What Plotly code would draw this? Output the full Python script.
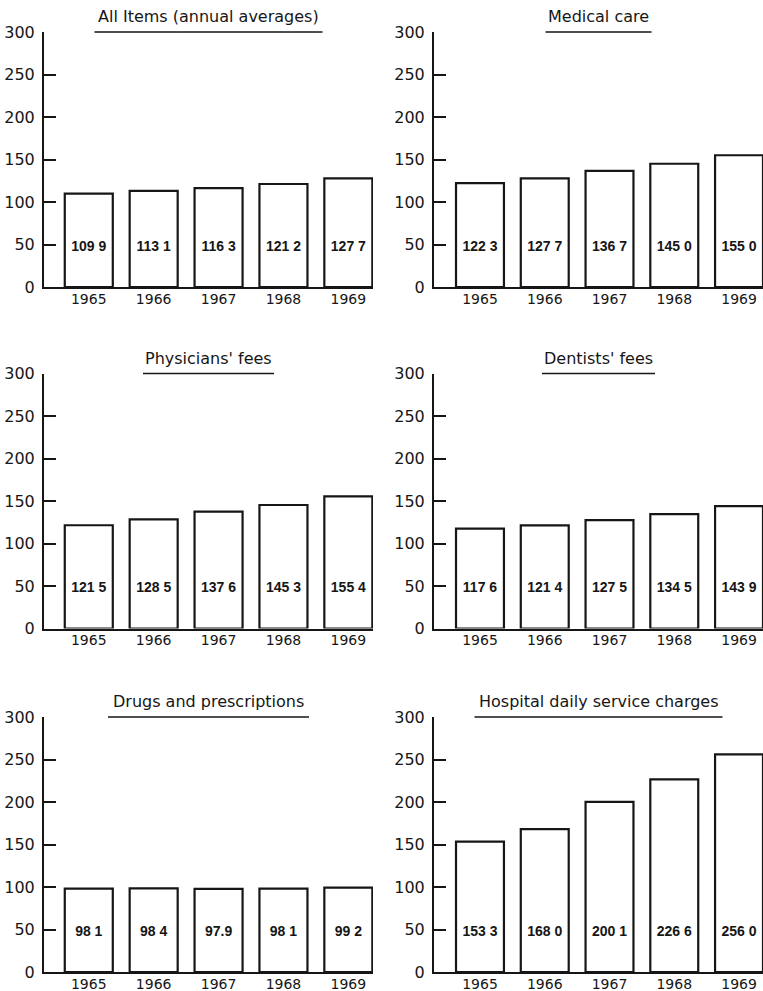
import plotly.graph_objects as go

# ---- data ----
years = ["1965", "1966", "1967", "1968", "1969"]

titles = [
    "All Items (annual averages)",
    "Medical care",
    "Physicians' fees",
    "Dentists' fees",
    "Drugs and prescriptions",
    "Hospital daily service charges",
]

all_items = [109.9, 113.1, 116.3, 121.2, 127.7]
medical_care = [122.3, 127.7, 136.7, 145.0, 155.0]
physicians_fees = [121.5, 128.5, 137.6, 145.3, 155.4]
dentists_fees = [117.6, 121.4, 127.5, 134.5, 143.9]
drugs_prescriptions = [98.1, 98.4, 97.9, 98.1, 99.2]
hospital_charges = [153.3, 168.0, 200.1, 226.6, 256.0]

# bar labels as printed in the source
all_items_lbl = ["109 9", "113 1", "116 3", "121 2", "127 7"]
medical_care_lbl = ["122 3", "127 7", "136 7", "145 0", "155 0"]
physicians_fees_lbl = ["121 5", "128 5", "137 6", "145 3", "155 4"]
dentists_fees_lbl = ["117 6", "121 4", "127 5", "134 5", "143 9"]
drugs_prescriptions_lbl = ["98 1", "98 4", "97.9", "98 1", "99 2"]
hospital_charges_lbl = ["153 3", "168 0", "200 1", "226 6", "256 0"]

y_ticks = [0, 50, 100, 150, 200, 250, 300]

series = [all_items, medical_care, physicians_fees, dentists_fees,
          drugs_prescriptions, hospital_charges]
labels = [all_items_lbl, medical_care_lbl, physicians_fees_lbl,
          dentists_fees_lbl, drugs_prescriptions_lbl, hospital_charges_lbl]

# ---- layout / style ----
W, H = 763, 991
INK = "#161616"
col_dom = [[44 / W, 373 / W], [434 / W, 1.0]]
col_rng = [[-0.69, 4.38], [-0.71, 4.37]]
row_dom = [[(H - 287) / H, (H - 32) / H],
           [(H - 628.5) / H, (H - 373.5) / H],
           [(H - 972) / H, (H - 717) / H]]
underline_half = [114, 53, 65.5, 56.5, 100.5, 124]  # px
LABEL_LEVEL = 47
LABEL_FONT = "Liberation Sans Narrow, Arial Narrow, Liberation Sans, Arial, sans-serif"

fig = go.Figure()
layout = dict(
    template="none",
    width=W, height=H, autosize=False,
    margin=dict(l=0, r=0, t=0, b=0, pad=0),
    paper_bgcolor="white", plot_bgcolor="white",
    showlegend=False,
    font=dict(family="DejaVu Sans", color=INK),
)
annotations = []
shapes = []

for i in range(6):
    r, c = divmod(i, 2)
    n = i + 1
    xa = "x" if n == 1 else f"x{n}"
    ya = "y" if n == 1 else f"y{n}"
    xkey = "xaxis" if n == 1 else f"xaxis{n}"
    ykey = "yaxis" if n == 1 else f"yaxis{n}"
    xs = list(range(len(years)))

    fig.add_trace(go.Bar(
        x=xs, y=series[i], width=0.74,
        marker=dict(color="white", line=dict(color=INK, width=2.2)),
        xaxis=xa, yaxis=ya, hoverinfo="skip", cliponaxis=False,
    ))
    fig.add_trace(go.Scatter(
        x=xs, y=[LABEL_LEVEL] * len(xs), mode="text",
        text=[f"<b>{t}</b>" for t in labels[i]],
        textfont=dict(family=LABEL_FONT, size=14, color=INK),
        xaxis=xa, yaxis=ya, hoverinfo="skip",
    ))

    layout[xkey] = dict(
        domain=col_dom[c], anchor=ya, range=col_rng[c], automargin=False,
        tickmode="array", tickvals=xs, ticktext=years,
        showline=True, linecolor=INK, linewidth=2,
        ticks="", showgrid=False, zeroline=False,
        tickfont=dict(family="DejaVu Sans", size=14, color=INK),
        ticklabelstandoff=-2, fixedrange=True,
    )
    layout[ykey] = dict(
        domain=row_dom[r], anchor=xa, range=[0, 300], automargin=False,
        tickmode="array", tickvals=y_ticks,
        showline=True, linecolor=INK, linewidth=2,
        ticks="inside", ticklen=12, tickwidth=2, tickcolor=INK,
        showgrid=False, zeroline=False,
        tickfont=dict(family="DejaVu Sans", size=16, color=INK),
        ticklabelstandoff=4, fixedrange=True,
    )

    annotations.append(dict(
        text=titles[i], xref=f"{xa} domain", yref=f"{ya} domain",
        x=0.5, y=1, xanchor="center", yanchor="bottom", yshift=4,
        showarrow=False,
        font=dict(family="DejaVu Sans", size=16, color=INK),
    ))
    dom_w = (col_dom[c][1] - col_dom[c][0]) * W
    hw = underline_half[i] / dom_w
    shapes.append(dict(
        type="line", xref=f"{xa} domain", yref=f"{ya} domain",
        x0=0.5 - hw, x1=0.5 + hw, y0=1, y1=1,
        line=dict(color=INK, width=1.5),
    ))

layout["annotations"] = annotations
layout["shapes"] = shapes
fig.update_layout(**layout)

fig.write_html(
    "out.html",
    config={"displayModeBar": False},
    post_script="document.body.style.margin='0';document.body.style.overflow='hidden';",
)
